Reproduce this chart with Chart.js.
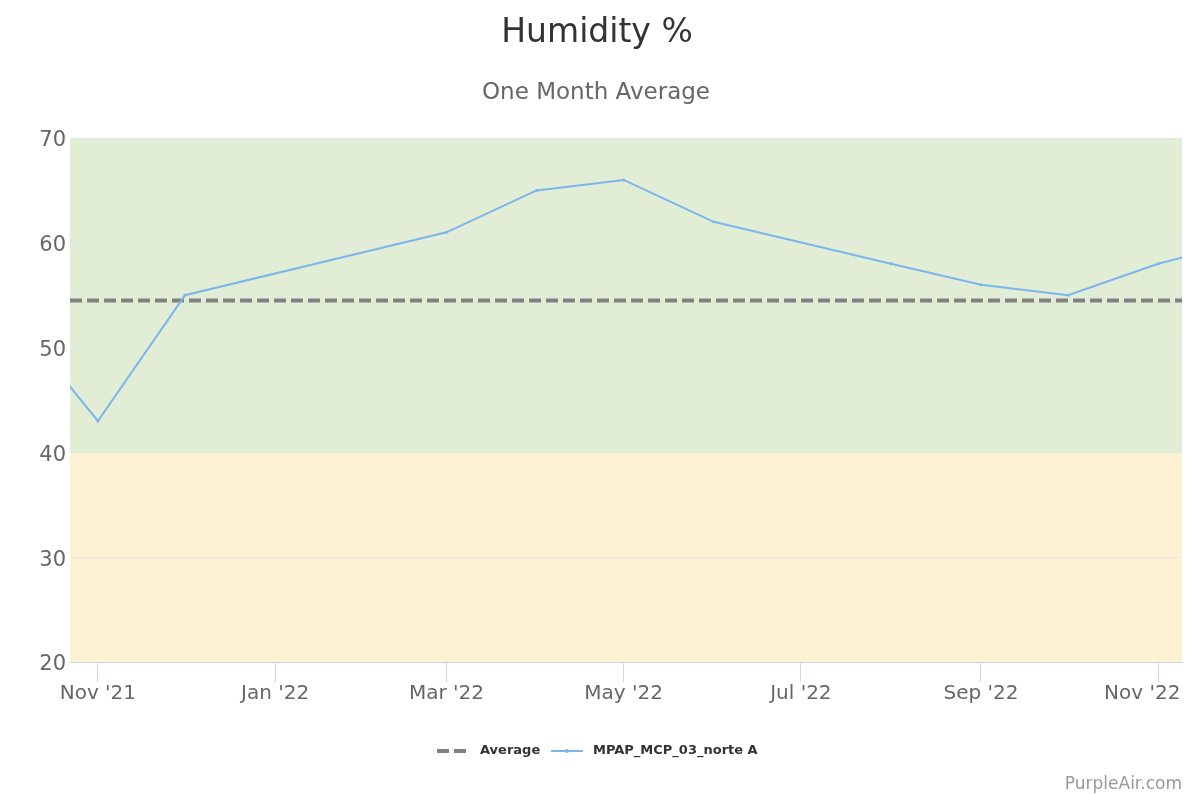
<!DOCTYPE html>
<html lang="en">
<head>
    <meta charset="UTF-8">
    <title>Humidity %</title>
    <script src="https://cdn.jsdelivr.net/npm/chart.js"></script>
    <style>
        body { margin: 0; background: #fff; }
        #wrap { width: 1188px; height: 794px; }
    </style>
</head>
<body>
    <div id="wrap"><canvas id="humidityChart"></canvas></div>

    <script>
// days counted from 1 Nov 2021
const sampleDays = [-31, 0, 30, 120, 151, 181, 212, 273, 304, 334, 365, 395];
const humidity = [53.6, 43, 55, 61, 65, 66, 62, 58, 56, 55, 58, 60.2];
const averageValue = 54.5;
const rangeDays = [-9.6, 373.2];
const tickDays = [0, 61, 120, 181, 242, 304, 365];
const tickLabels = ["Nov '21", "Jan '22", "Mar '22", "May '22", "Jul '22", "Sep '22", "Nov '22"];
const yTicks = [20, 30, 40, 50, 60, 70];
const bands = [
    { from: 40, to: 70, color: '#e1eed5' },
    { from: 20, to: 40, color: '#fcf1d3' }
];

const FONT = '"DejaVu Sans", Verdana, sans-serif';

const bandsPlugin = {
    id: 'bands',
    beforeDraw(chart) {
        const { ctx, chartArea, scales } = chart;
        ctx.save();
        bands.forEach(b => {
            const y1 = scales.y.getPixelForValue(b.to);
            const y2 = scales.y.getPixelForValue(b.from);
            ctx.fillStyle = b.color;
            ctx.fillRect(chartArea.left, y1, chartArea.right - chartArea.left, y2 - y1);
        });
        ctx.restore();
    }
};

const textPlugin = {
    id: 'texts',
    afterDraw(chart) {
        const ctx = chart.ctx;
        ctx.save();
        ctx.textAlign = 'center';
        ctx.textBaseline = 'middle';
        ctx.fillStyle = '#333333';
        ctx.font = '33px ' + FONT;
        ctx.fillText('Humidity %', 597, 33);
        ctx.fillStyle = '#666666';
        ctx.font = '23px ' + FONT;
        ctx.fillText('One Month Average', 596, 93);

        // legend
        const ly = 751;
        ctx.lineWidth = 4;
        ctx.strokeStyle = '#808080';
        ctx.setLineDash([12, 5]);
        ctx.beginPath();
        ctx.moveTo(437, ly); ctx.lineTo(467, ly);
        ctx.stroke();
        ctx.setLineDash([]);
        ctx.lineWidth = 2;
        ctx.strokeStyle = '#7cb5ec';
        ctx.beginPath();
        ctx.moveTo(551, ly); ctx.lineTo(583, ly);
        ctx.stroke();
        ctx.fillStyle = '#7cb5ec';
        ctx.beginPath();
        ctx.arc(567, ly, 2, 0, Math.PI * 2);
        ctx.fill();

        ctx.textAlign = 'left';
        ctx.fillStyle = '#333333';
        ctx.font = 'bold 13px ' + FONT;
        ctx.fillText('Average', 480, ly);
        ctx.fillText('MPAP_MCP_03_norte A', 593, ly);

        ctx.textAlign = 'right';
        ctx.fillStyle = '#999999';
        ctx.font = '17px ' + FONT;
        ctx.fillText('PurpleAir.com', 1182, 785);
        ctx.restore();
    }
};

new Chart(document.getElementById('humidityChart'), {
    type: 'line',
    data: {
        datasets: [
            {
                label: 'MPAP_MCP_03_norte A',
                data: sampleDays.map((d, i) => ({ x: d, y: humidity[i] })),
                borderColor: '#7cb5ec',
                backgroundColor: '#7cb5ec',
                borderWidth: 2,
                pointRadius: 1.5,
                pointBorderWidth: 0,
                tension: 0,
                clip: 0,
                order: 0
            },
            {
                label: 'Average',
                data: rangeDays.map(d => ({ x: d, y: averageValue })),
                borderColor: '#808080',
                borderWidth: 4,
                borderDash: [12, 5],
                pointRadius: 0,
                clip: 0,
                order: 1
            }
        ]
    },
    options: {
        responsive: true,
        maintainAspectRatio: false,
        animation: false,
        layout: { padding: { top: 138, right: 6, left: 0, bottom: 0 } },
        plugins: {
            legend: { display: false },
            title: { display: false },
            tooltip: { enabled: false }
        },
        scales: {
            x: {
                type: 'linear',
                min: rangeDays[0],
                max: rangeDays[1],
                afterBuildTicks: s => { s.ticks = tickDays.map(v => ({ value: v })); },
                afterFit: s => { s.height = 132; s.paddingLeft = 0; s.paddingRight = 0; },
                ticks: {
                    // last label is pushed left so it stays inside the canvas
                    callback: (v) => {
                        const i = tickDays.indexOf(v);
                        return i === tickLabels.length - 1 ? tickLabels[i] + '\u00a0\u00a0\u00a0\u00a0\u00a0' : tickLabels[i];
                    },
                    color: '#666666',
                    font: { family: FONT, size: 20 },
                    padding: 0,
                    maxRotation: 0,
                    autoSkip: false
                },
                grid: {
                    drawOnChartArea: false,
                    drawTicks: true,
                    tickLength: 20,
                    tickColor: '#ccd6eb',
                    tickWidth: 1
                },
                border: { color: '#ccd6eb', width: 1 }
            },
            y: {
                min: 20,
                max: 70,
                afterBuildTicks: s => { s.ticks = yTicks.map(v => ({ value: v })); },
                afterFit: s => { s.width = 70; s.paddingTop = 0; s.paddingBottom = 0; },
                ticks: {
                    color: '#666666',
                    font: { family: FONT, size: 21 },
                    padding: 4,
                    labelOffset: 3
                },
                grid: { color: '#e6e6e6', drawTicks: false, lineWidth: 1 },
                border: { display: false }
            }
        }
    },
    plugins: [bandsPlugin, textPlugin]
});
    </script>
</body>
</html>
